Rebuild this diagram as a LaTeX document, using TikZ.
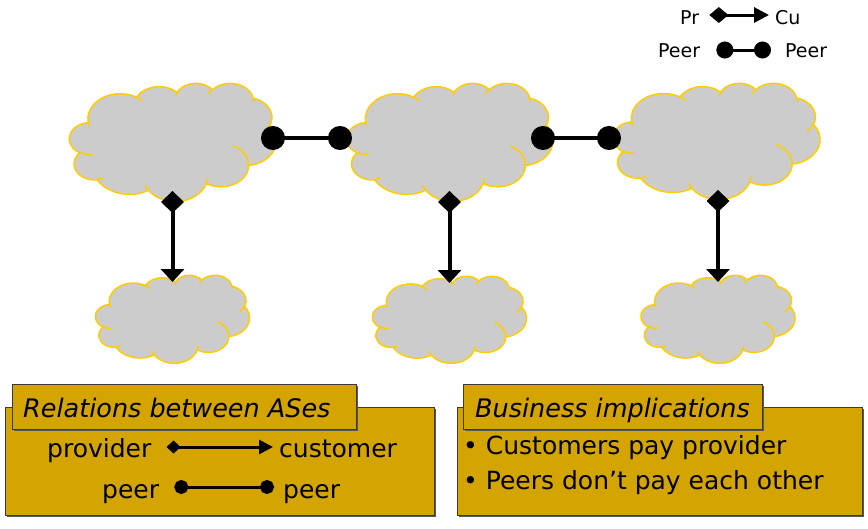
\documentclass[tikz,border=0pt]{standalone}
\usepackage{fontspec}
\setmainfont{DejaVu Sans}
\usetikzlibrary{arrows.meta,shadows}
\definecolor{cloudgray}{HTML}{CCCCCC}
\definecolor{cloudline}{HTML}{FFCC00}
\definecolor{goldfill}{HTML}{D4A500}
\definecolor{boxline}{HTML}{3A3A3A}

% one arc of the cloud outline (radii in 1/1000 of the 43200 box, visual angles in degrees)
\newcommand\cloudarc[4]{%
  \pgfmathsetmacro\cts{atan2((#1)*sin(#3),(#2)*cos(#3))}%
  \pgfmathsetmacro\cte{atan2((#1)*sin((#3)+(#4)),(#2)*cos((#3)+(#4)))}%
  \pgfmathsetmacro\ctd{\cte-(\cts)}%
  \pgfmathsetmacro\ctd{\ctd+360*((#4)>0)*(\ctd<0)-360*((#4)<0)*(\ctd>0)}%
  \pgfmathsetmacro\cta{-(\cts)}%
  \pgfmathsetmacro\ctb{-(\cts)-(\ctd)}%
  \pgfmathsetmacro\crx{(#1)*\csx}%
  \pgfmathsetmacro\cry{(#2)*\csy}%
  \pgfpatharc{\cta}{\ctb}{\crx pt and \cry pt}}
\newcommand\cmove[2]{%
  \pgfmathsetmacro\cmx{\cx+(#1)*\csx}%
  \pgfmathsetmacro\cmy{-(\cy+(#2)*\csy)}%
  \pgfpathmoveto{\pgfqpoint{\cmx pt}{\cmy pt}}}
\newcommand\drawcloud[4]{%
  \pgfmathsetmacro\cx{#1}\pgfmathsetmacro\cy{#2}%
  \pgfmathsetmacro\csx{(#3)/43.2}\pgfmathsetmacro\csy{(#4)/43.2}%
  \begin{pgfscope}%
  \pgfsetfillcolor{cloudgray}\pgfsetstrokecolor{cloudline}\pgfsetlinewidth{1.5pt}%
  \pgfsetroundjoin
  \cmove{3.9}{14.37}%
  \cloudarc{6.753}{9.190}{-190.48748}{123.78053}%
  \cloudarc{5.333}{7.267}{-144.10238}{89.94523}%
  \cloudarc{4.365}{5.945}{-145.80792}{99.72302}%
  \cloudarc{4.857}{6.595}{-130.98607}{117.24173}%
  \cloudarc{5.333}{7.273}{-78.70888}{109.02692}%
  \cloudarc{6.775}{9.220}{-46.26725}{130.26900}%
  \cloudarc{5.785}{7.867}{0.62502}{114.03333}%
  \cloudarc{6.752}{9.215}{22.45160}{115.17255}%
  \cloudarc{7.720}{10.543}{66.24263}{75.71102}%
  \cloudarc{4.360}{5.918}{-274.94208}{146.73557}%
  \cloudarc{4.345}{5.945}{-246.82850}{152.51885}%
  \pgfpathclose
  \pgfusepath{fill,stroke}%
  \cmove{4.693}{26.177}\cloudarc{4.345}{5.945}{86.742}{26.4295}%
  \cmove{6.928}{34.899}\cloudarc{4.360}{5.918}{73.61047}{11.44747}%
  \cmove{16.478}{39.090}\cloudarc{6.752}{9.215}{137.62415}{14.0811}%
  \cmove{28.827}{34.751}\cloudarc{6.752}{9.215}{6.45327}{15.99835}%
  \cmove{34.129}{22.954}\cloudarc{5.785}{7.867}{-70.29235}{70.91737}%
  \cmove{41.798}{15.354}\cloudarc{5.333}{7.273}{30.31803}{27.7515}%
  \cmove{38.324}{5.426}\cloudarc{4.857}{6.595}{-13.74433}{14.8589}%
  \cmove{29.078}{3.952}\cloudarc{4.857}{6.595}{-149.18145}{18.19537}%
  \cmove{22.141}{4.720}\cloudarc{4.365}{5.945}{-163.49427}{17.68635}%
  \cmove{14.000}{5.192}\cloudarc{6.753}{9.190}{-66.70695}{12.31935}%
  \cmove{4.127}{15.789}\cloudarc{6.753}{9.190}{157.65435}{11.85817}%
  \pgfusepath{stroke}%
  \end{pgfscope}}
% cloud with a named (invisible) node of the same size
\newcommand\cloudnode[5]{%
  \drawcloud{#2-(#4)/2}{#3-(#5)/2}{#4}{#5}%
  \node[cloudspot, minimum width=#4pt, minimum height=#5pt] (#1) at (#2,#3) {};}

\begin{document}
\begin{tikzpicture}[x=1pt,y=-1pt,
  cloudspot/.style={inner sep=0pt, outer sep=0pt, shape=rectangle},
  peerlink/.style={line width=4pt, arrows={Circle[length=24pt,width=24pt]-Circle[length=24pt,width=24pt]}},
  provlink/.style={line width=4pt, arrows={Diamond[length=22pt,width=23pt]-Triangle[length=13pt,width=23pt]}},
  legprov/.style={line width=3pt, arrows={Diamond[length=19pt,width=16pt]-Triangle[length=15pt,width=15pt]}},
  legpeer/.style={line width=3pt, arrows={Circle[length=17pt,width=17pt]-Circle[length=17pt,width=17pt]}},
  boxprov/.style={line width=3pt, arrows={Diamond[length=14pt,width=13pt]-Triangle[length=14pt,width=14pt]}},
  boxpeer/.style={line width=3pt, arrows={Circle[length=14pt,width=14pt]-Circle[length=14pt,width=14pt]}},
  legtxt/.style={inner sep=0pt, font=\fontsize{19}{23}\selectfont},
  boxtxt/.style={inner sep=0pt, font=\fontsize{25}{30}\selectfont},
  headtxt/.style={inner sep=0pt, font=\fontsize{25.5}{30}\selectfont\itshape},
  goldbox/.style={shape=rectangle, inner sep=0pt, fill=goldfill, draw=boxline, line width=1pt,
    drop shadow={shadow xshift=1.5pt, shadow yshift=-1.5pt, fill=black!65, opacity=1}},
]
\useasboundingbox[fill=white] (0,0) rectangle (868,528);

% clouds
\cloudnode{c1}{173}{142}{207}{118}
\cloudnode{c2}{450}{142}{206}{118}
\cloudnode{c3}{716.5}{141}{207}{116}
\cloudnode{s1}{172.5}{319}{154}{88}
\cloudnode{s2}{449.5}{319.5}{154}{87}
\cloudnode{s3}{718}{319}{154}{88}

% peering links
\draw[peerlink] ([shift={(-15.5pt,4pt)}]c1.east) -- ([shift={(5pt,4pt)}]c2.west);
\draw[peerlink] ([shift={(-22pt,4pt)}]c2.east) -- ([shift={(8pt,3pt)}]c3.west);

% provider -> customer links
\draw[provlink] ([yshift=10pt]c1.south -| s1.north) -- ([yshift=-7pt]s1.north);
\draw[provlink] ([yshift=10pt]c2.south -| s2.north) -- ([yshift=-7pt]s2.north);
\draw[provlink] ([yshift=9pt]c3.south -| s3.north) -- ([yshift=-7pt]s3.north);

% top legend
\node[legtxt, anchor=base west] (pr) at (680,24) {Pr};
\node[legtxt, anchor=base west] (cu) at (775,24) {Cu};
\draw[legprov] ([shift={(10pt,9pt)}]pr.base east) -- ([shift={(-6pt,9pt)}]cu.base west);
\node[legtxt, anchor=base west] (pe1) at (658,57) {Peer};
\node[legtxt, anchor=base west] (pe2) at (785,57) {Peer};
\draw[legpeer] ([shift={(16pt,7pt)}]pe1.base east) -- ([shift={(-14pt,7pt)}]pe2.base west);

% left box
\node[goldbox, anchor=north west, minimum width=429pt, minimum height=108pt] (lbox) at (5,407) {};
\node[goldbox, anchor=north west, minimum width=344pt, minimum height=45pt] (ltitle) at (12,384) {};
\node[headtxt, anchor=base west] (lhead) at (23,417) {Relations between ASes};
\node[boxtxt, anchor=base west] (prov) at (47,457) {provider};
\node[boxtxt, anchor=base west] (cust) at (279,457) {customer};
\draw[boxprov] ([shift={(15pt,10pt)}]prov.base east) -- ([shift={(-6pt,10pt)}]cust.base west);
\node[boxtxt, anchor=base west] (peerl) at (102,498) {peer};
\node[boxtxt, anchor=base west] (peerr) at (283,498) {peer};
\draw[boxpeer] ([shift={(15pt,11pt)}]peerl.base east) -- ([shift={(-9pt,11pt)}]peerr.base west);

% right box
\node[goldbox, anchor=north west, minimum width=405pt, minimum height=108pt] (rbox) at (457,407) {};
\node[goldbox, anchor=north west, minimum width=299pt, minimum height=45pt] (rtitle) at (463,384) {};
\node[headtxt, anchor=base west] (rhead) at (475,417) {Business implications};
\node[boxtxt, anchor=base west] (b1) at (463,454) {• Customers pay provider};
\node[boxtxt, anchor=base west] (b2) at (463,489) {• Peers don’t pay each other};
\end{tikzpicture}
\end{document}
